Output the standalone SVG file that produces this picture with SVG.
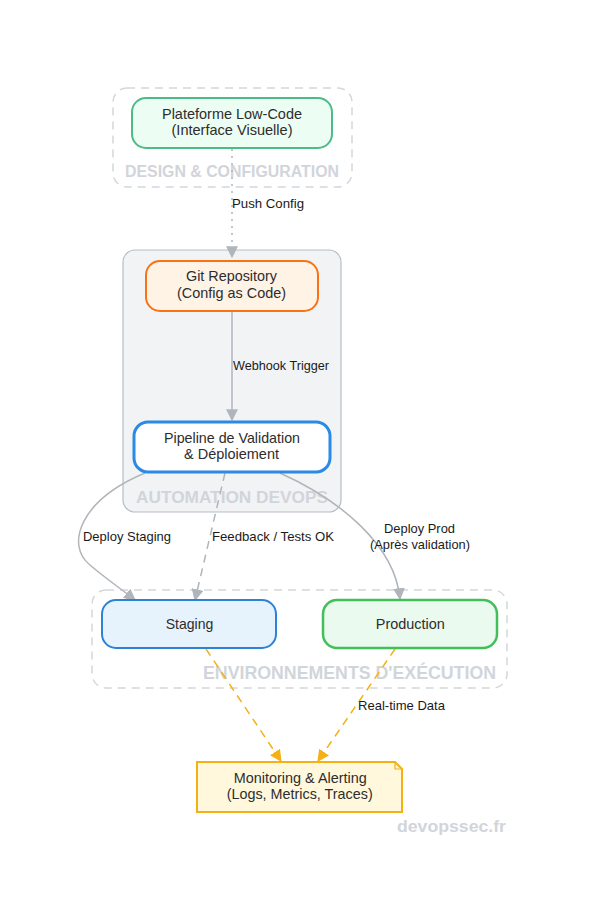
<svg xmlns="http://www.w3.org/2000/svg" width="596" height="919" viewBox="0 0 596 919">
<defs>
<style>
.t{font-family:"Liberation Sans",Arial,sans-serif;font-size:14.6px;fill:#2d2d2d;text-anchor:middle}
.l{font-family:"Liberation Sans",Arial,sans-serif;font-size:13px;fill:#1a1a1a}
.c{font-family:"Liberation Sans",Arial,sans-serif;font-size:16px;font-weight:bold;fill:#d1d5db;text-anchor:end}
.e{fill:none;stroke:#b0b5bb;stroke-width:1.5}
.o{fill:none;stroke:#f5b014;stroke-width:1.5;stroke-dasharray:8,6}
</style>
<marker id="ag" viewBox="0 0 10 10" refX="9" refY="5" markerWidth="8" markerHeight="8" orient="auto"><path d="M0,0L10,5L0,10z" fill="#b0b5bb"/></marker>
<marker id="ao" viewBox="0 0 10 10" refX="9" refY="5" markerWidth="8" markerHeight="8" orient="auto"><path d="M0,0L10,5L0,10z" fill="#f5b014"/></marker>
</defs>
<rect width="596" height="919" fill="#ffffff"/>
<g id="cluster-design">
<rect x="113" y="88" width="239" height="99" rx="14" fill="none" stroke="#d4d7dc" stroke-width="1.5" stroke-dasharray="8,6"/>
<text class="c" x="339" y="177" textLength="214" lengthAdjust="spacingAndGlyphs">DESIGN &amp; CONFIGURATION</text>
</g>
<g id="cluster-automation">
<rect x="123" y="250" width="218" height="262" rx="12" fill="#f1f3f5" stroke="#b8bec6" stroke-width="1.2"/>
<text class="c" x="328" y="503" style="font-size:17px" textLength="192" lengthAdjust="spacingAndGlyphs">AUTOMATION DEVOPS</text>
</g>
<g id="cluster-env">
<rect x="92" y="590" width="415" height="98" rx="14" fill="none" stroke="#d4d7dc" stroke-width="1.5" stroke-dasharray="8,6"/>
<text class="c" x="496" y="679" style="font-size:17.5px" textLength="293" lengthAdjust="spacingAndGlyphs">ENVIRONNEMENTS D'EXÉCUTION</text>
</g>
<g id="connectors">
<path class="e" d="M232,149 L232,257" stroke-dasharray="2,5" marker-end="url(#ag)"/>
<text class="l" x="232" y="208" textLength="72" lengthAdjust="spacingAndGlyphs">Push Config</text>
<path class="e" d="M232,312 L232,420" marker-end="url(#ag)"/>
<text class="l" x="233" y="370" textLength="96" lengthAdjust="spacingAndGlyphs">Webhook Trigger</text>
<path class="e" d="M145,473 C80,500 65,545 90,565 C105,578 120,588 135,600" marker-end="url(#ag)"/>
<text class="l" x="83" y="541" textLength="88" lengthAdjust="spacingAndGlyphs">Deploy Staging</text>
<path class="e" d="M225,473 L195,600" stroke-dasharray="8,6" marker-end="url(#ag)"/>
<text class="l" x="212" y="541" textLength="122" lengthAdjust="spacingAndGlyphs">Feedback / Tests OK</text>
<path class="e" d="M280,473 C340,500 395,545 400,599" stroke-width="2" marker-end="url(#ag)"/>
<text class="l" x="384" y="533" textLength="71" lengthAdjust="spacingAndGlyphs">Deploy Prod</text>
<text class="l" x="370" y="549" textLength="100" lengthAdjust="spacingAndGlyphs">(Après validation)</text>
<path class="o" d="M206,649 L281,761" marker-end="url(#ao)"/>
<path class="o" d="M395,649 L318,761" marker-end="url(#ao)"/>
<text class="l" x="358" y="710" textLength="87" lengthAdjust="spacingAndGlyphs">Real-time Data</text>
</g>
<g id="node-lowcode">
<rect x="132" y="98" width="200" height="50" rx="14" fill="#ecfdf3" stroke="#4cbb87" stroke-width="2"/>
<text class="t" x="232" y="119" textLength="140" lengthAdjust="spacingAndGlyphs">Plateforme Low-Code</text>
<text class="t" x="232" y="135" textLength="121" lengthAdjust="spacingAndGlyphs">(Interface Visuelle)</text>
</g>
<g id="node-git">
<rect x="146" y="261" width="172" height="50" rx="14" fill="#fff3e6" stroke="#f97316" stroke-width="2"/>
<text class="t" x="231.5" y="281" textLength="91" lengthAdjust="spacingAndGlyphs">Git Repository</text>
<text class="t" x="231.5" y="298" textLength="109" lengthAdjust="spacingAndGlyphs">(Config as Code)</text>
</g>
<g id="node-pipeline">
<rect x="134" y="422" width="196" height="50" rx="14" fill="#ffffff" stroke="#2b8ae5" stroke-width="3"/>
<text class="t" x="232" y="443" textLength="136" lengthAdjust="spacingAndGlyphs">Pipeline de Validation</text>
<text class="t" x="231.5" y="459" textLength="95" lengthAdjust="spacingAndGlyphs">&amp; Déploiement</text>
</g>
<g id="node-staging">
<rect x="102" y="600" width="174" height="48" rx="14" fill="#e6f3fd" stroke="#2b83d6" stroke-width="2"/>
<text class="t" x="189.5" y="629" textLength="47.6" lengthAdjust="spacingAndGlyphs">Staging</text>
</g>
<g id="node-production">
<rect x="323" y="600" width="174" height="48" rx="14" fill="#eafaee" stroke="#43bf5a" stroke-width="2.5"/>
<text class="t" x="410.3" y="629" textLength="69" lengthAdjust="spacingAndGlyphs">Production</text>
</g>
<g id="node-monitoring">
<path d="M197,762 L395,762 L402,769 L402,812 L197,812 Z" fill="#fff8dc" stroke="#f5b014" stroke-width="2"/>
<path d="M395,762 L395,769 L402,769" fill="none" stroke="#f5b014" stroke-width="1.2"/>
<text class="t" x="300.3" y="783" textLength="133" lengthAdjust="spacingAndGlyphs">Monitoring &amp; Alerting</text>
<text class="t" x="299.7" y="799" textLength="146" lengthAdjust="spacingAndGlyphs">(Logs, Metrics, Traces)</text>
</g>
<text class="c" x="506" y="832" style="font-size:17px" textLength="109" lengthAdjust="spacingAndGlyphs">devopssec.fr</text>
</svg>
